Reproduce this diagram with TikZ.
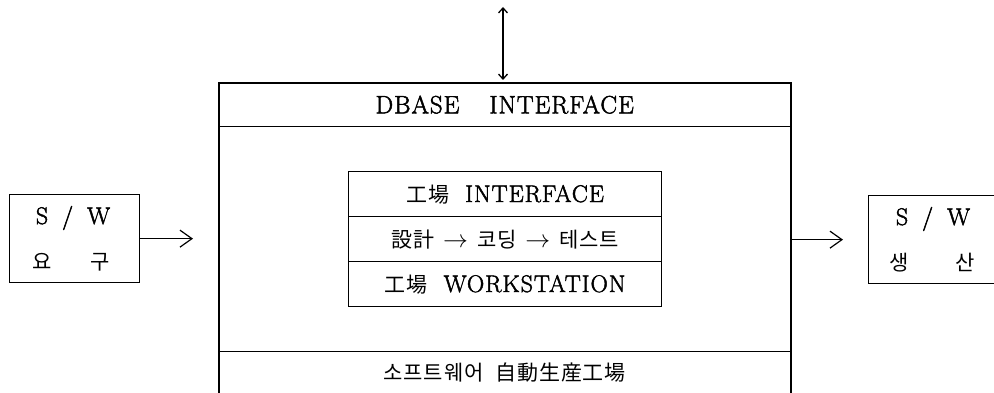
\documentclass[tikz,border=0pt]{standalone}
\usepackage{fontspec}
\newfontfamily\kr{Noto Sans CJK KR}[LetterSpace=4]
\newfontfamily\lat{Latin Modern Roman}[LetterSpace=4,FakeBold=2]
\usetikzlibrary{arrows.meta}
\begin{document}
\begin{tikzpicture}[x=1pt,y=-1pt,
  lbl/.style={font=\lat\fontsize{24}{28}\selectfont, inner sep=0pt},
  sect/.style={draw, line width=1.3pt, inner sep=0pt, anchor=north west, font=\lat\fontsize{24}{28}\selectfont},
  frame/.style={draw, line width=1.7pt, inner sep=0pt, anchor=north west},
  arr/.style={line width=1.2pt, -{Straight Barb[length=12pt,width=17pt,line width=1.2pt]}},
  darr/.style={line width=1.3pt, {Straight Barb[length=5pt,width=9pt]}-{Straight Barb[length=5pt,width=9pt]}}]
\newcommand{\ko}{\kr\fontsize{21}{25}\selectfont}
\useasboundingbox (0,0) rectangle (994,393);
% outer factory frame (bottom cut off by the picture edge)
\node[frame, minimum width=572pt, minimum height=311pt] (factory) at (218,82) {};
\node[sect, minimum width=572pt, minimum height=44pt, font=\lat\fontsize{25}{29}\selectfont] (dbase) at (218,82) {DBASE\hspace{30pt}INTERFACE};
\node[sect, minimum width=572pt, minimum height=42pt] (plant) at (218,351) {{\ko 소프트웨어\hspace{12pt}自動生産工場}};
% inner stack
\node[sect, minimum width=313pt, minimum height=45pt] (iface) at (348,171) {{\ko 工場}\hspace{16pt}INTERFACE};
\node[sect, minimum width=313pt, minimum height=45pt] (flow) at (348,216) {{\ko 設計}\hspace{9pt}$\rightarrow$\hspace{9pt}{\ko 코딩}\hspace{9pt}$\rightarrow$\hspace{9pt}{\ko 테스트}};
\node[sect, minimum width=313pt, minimum height=45pt] (ws) at (348,261) {{\ko 工場}\hspace{16pt}WORKSTATION};
% side boxes
\node[sect, minimum width=130pt, minimum height=88pt] (req) at (9,194) {};
\node[lbl] (reqa) at (73,218) {S\hspace{14pt}/\hspace{14pt}W};
\node[lbl] (reqb) at (71,262) {{\ko 요}\hspace{39pt}{\ko 구}};
\node[sect, minimum width=130pt, minimum height=88pt] (prod) at (868,195) {};
\node[lbl] (proda) at (933,219) {S\hspace{14pt}/\hspace{14pt}W};
\node[lbl] (prodb) at (932,263) {{\ko 생}\hspace{47pt}{\ko 산}};
% connectors
\coordinate (db) at (503,7);
\draw[darr, shorten >=2pt] (db) -- (db |- dbase.north);
\draw[arr, shorten >=25pt] (req.east) -- (req.east -| factory.west);
\draw[arr, shorten >=25pt] (factory.east |- prod.west) -- (prod.west);
\end{tikzpicture}
\end{document}
